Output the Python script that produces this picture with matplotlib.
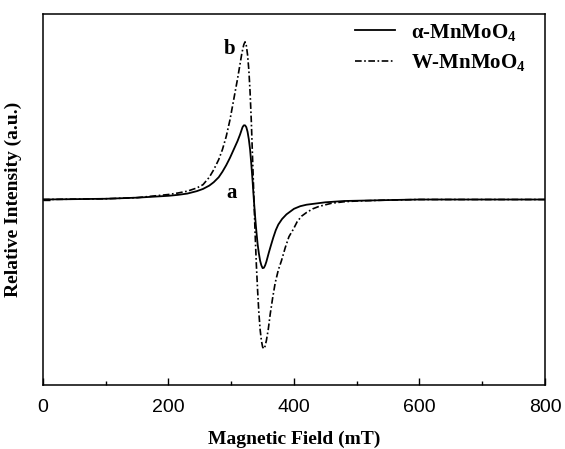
import matplotlib
matplotlib.use("Agg")
import matplotlib.pyplot as plt
from matplotlib.ticker import MultipleLocator

# EPR spectra (field in mT, intensity in arbitrary units)
field_a = [0, 100, 150, 200, 215, 230, 245, 255, 265, 272, 280, 286, 292, 298,
           304, 310, 314, 316, 318, 320, 322, 324, 326, 328, 330, 332, 334,
           336, 338, 340, 342, 344, 346, 348, 350, 352, 354, 356, 358, 360,
           363, 367, 371, 375, 381, 388, 394, 400, 410, 420, 450, 480, 550,
           600, 700, 800]
alpha_mnmoo4 = [0, 0.004, 0.01, 0.02, 0.025, 0.032, 0.045, 0.057, 0.075,
                0.093, 0.12, 0.15, 0.185, 0.225, 0.27, 0.315, 0.35, 0.37,
                0.39, 0.40, 0.40, 0.39, 0.365, 0.325, 0.27, 0.19, 0.10, 0.0,
                -0.09, -0.17, -0.24, -0.29, -0.33, -0.355, -0.37, -0.368,
                -0.355, -0.335, -0.31, -0.285, -0.25, -0.205, -0.165,
                -0.135, -0.105, -0.08, -0.065, -0.05, -0.036, -0.028,
                -0.015, -0.008, -0.003, 0, 0, 0]

field_b = [0, 100, 150, 200, 215, 230, 245, 255, 265, 272, 280, 286, 292, 298,
           304, 310, 314, 317, 320, 322, 324, 326, 328, 330, 332, 334, 336,
           338, 340, 342, 344, 346, 348, 350, 352, 354, 356, 359, 362, 366,
           370, 375, 380, 386, 392, 399, 405, 412, 420, 430, 440, 460, 480,
           500, 550, 600, 700, 800]
w_mnmoo4 = [0, 0.004, 0.01, 0.027, 0.035, 0.045, 0.062, 0.08, 0.12, 0.16,
            0.215, 0.27, 0.34, 0.43, 0.54, 0.65, 0.73, 0.79, 0.835, 0.85,
            0.83, 0.78, 0.70, 0.58, 0.42, 0.22, 0.02, -0.18, -0.35, -0.49,
            -0.61, -0.70, -0.76, -0.795, -0.805, -0.79, -0.76, -0.70, -0.62,
            -0.53, -0.45, -0.38, -0.33, -0.26, -0.20, -0.16, -0.12, -0.09,
            -0.07, -0.05, -0.037, -0.02, -0.012, -0.008, -0.003, 0, 0, 0]

legend_labels = [r"$\alpha$-MnMoO$_4$", "W-MnMoO$_4$"]
xticks = [0, 200, 400, 600, 800]

serif = "Liberation Serif"
plt.rcParams["mathtext.fontset"] = "custom"
plt.rcParams["mathtext.rm"] = "Liberation Serif:bold"
plt.rcParams["mathtext.it"] = "Liberation Serif:bold"
plt.rcParams["mathtext.bf"] = "Liberation Serif:bold"

fig = plt.figure(figsize=(5.65, 4.49), dpi=100)
ax = fig.add_axes([0.0761, 0.1425, 0.8885, 0.8263])

ax.plot(field_a, alpha_mnmoo4, color="black", lw=1.3, label=legend_labels[0])
ax.plot(field_b, w_mnmoo4, color="black", lw=1.2,
        dashes=(4, 1.5, 1, 1.5), label=legend_labels[1])

ax.set_xlim(0, 800)
ax.set_ylim(-1, 1)
ax.set_xticks(xticks)
ax.xaxis.set_minor_locator(MultipleLocator(100))
ax.set_yticks([0])
ax.set_yticklabels([])
ax.tick_params(direction="in", length=5, width=1, labelsize=14, pad=10)
ax.tick_params(which="minor", direction="in", length=3, width=1)
for lab in ax.get_xticklabels():
    lab.set_family("Liberation Sans")
for s in ax.spines.values():
    s.set_linewidth(1.1)

ax.set_xlabel("Magnetic Field (mT)", family=serif, weight="bold", fontsize=14, labelpad=11)
ax.set_ylabel("Relative Intensity (a.u.)", family=serif, weight="bold", fontsize=14, labelpad=5)

ax.text(298, 0.81, "b", family=serif, weight="bold", fontsize=15, ha="center", va="center")
ax.text(301, 0.035, "a", family=serif, weight="bold", fontsize=15, ha="center", va="center")

leg = ax.legend(loc="upper right", bbox_to_anchor=(1.0, 1.03), frameon=False,
                handlelength=1.9, handletextpad=0.8, labelspacing=0.45,
                prop={"family": serif, "weight": "bold", "size": 15})

fig.savefig("out.png", dpi=100)
